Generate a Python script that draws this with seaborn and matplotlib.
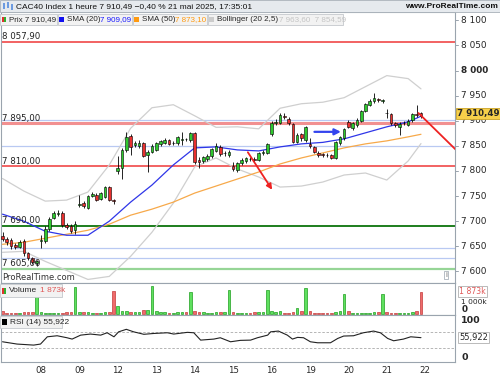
import matplotlib
matplotlib.use("Agg")
import matplotlib.pyplot as plt
import matplotlib.transforms as mtransforms
from matplotlib.patches import Rectangle
import numpy as np
import pandas as pd
import seaborn as sns

# hourly candles, 7 -> 21 May 2025 (9 bars per session)
opens = [7670, 7664, 7662, 7652, 7648, 7660, 7636, 7626, 7616,
         7660, 7660, 7684, 7706, 7714, 7716, 7692, 7690, 7682,
         7733, 7736, 7726, 7750, 7752, 7744, 7749, 7768, 7741,
         7800, 7805, 7842, 7870, 7852, 7849, 7856, 7832, 7838,
         7842, 7853, 7856, 7862, 7855, 7855, 7862, 7864, 7862,
         7876, 7822, 7820, 7824, 7829, 7840, 7848, 7835, 7832,
         7810, 7802, 7815, 7819, 7824, 7824, 7822, 7835, 7836,
         7874, 7896, 7896, 7910, 7904, 7894, 7858, 7874, 7862,
         7854, 7847, 7836, 7833, 7832, 7832, 7826, 7856, 7866,
         7898, 7886, 7892, 7900, 7920, 7932, 7939, 7942, 7940,
         7916, 7914, 7896, 7888, 7895, 7892, 7901, 7914, 7915]
closes = [7664, 7658, 7650, 7648, 7658, 7636, 7626, 7618, 7620,
          7662, 7684, 7704, 7716, 7716, 7692, 7688, 7680, 7694,
          7735, 7730, 7750, 7755, 7742, 7756, 7768, 7742, 7740,
          7806, 7842, 7867, 7848, 7855, 7856, 7830, 7838, 7850,
          7856, 7859, 7862, 7854, 7856, 7867, 7864, 7863, 7875,
          7818, 7818, 7827, 7830, 7843, 7850, 7834, 7836, 7838,
          7803, 7815, 7822, 7825, 7823, 7821, 7835, 7838, 7854,
          7896, 7898, 7912, 7908, 7896, 7858, 7872, 7866, 7887,
          7849, 7838, 7832, 7832, 7831, 7826, 7858, 7868, 7883,
          7888, 7895, 7902, 7920, 7933, 7940, 7946, 7941, 7941,
          7915, 7895, 7891, 7894, 7896, 7900, 7914, 7912, 7910.49]
highs = [7678, 7668, 7666, 7656, 7662, 7664, 7638, 7628, 7622,
         7672, 7690, 7708, 7720, 7722, 7720, 7696, 7694, 7700,
         7752, 7740, 7752, 7758, 7756, 7758, 7770, 7770, 7744,
         7830, 7846, 7878, 7874, 7860, 7862, 7858, 7842, 7854,
         7858, 7862, 7866, 7864, 7860, 7870, 7878, 7866, 7878,
         7878, 7828, 7830, 7834, 7846, 7856, 7852, 7840, 7842,
         7818, 7818, 7826, 7828, 7828, 7828, 7838, 7842, 7856,
         7900, 7904, 7916, 7916, 7908, 7896, 7876, 7876, 7890,
         7866, 7850, 7840, 7836, 7835, 7834, 7860, 7870, 7886,
         7902, 7898, 7906, 7922, 7936, 7944, 7955, 7946, 7944,
         7924, 7916, 7898, 7898, 7900, 7904, 7916, 7932, 7918]
lows = [7660, 7652, 7645, 7644, 7646, 7630, 7622, 7614, 7610,
        7646, 7656, 7680, 7704, 7710, 7688, 7684, 7676, 7674,
        7728, 7726, 7724, 7748, 7740, 7742, 7746, 7740, 7734,
        7794, 7784, 7838, 7832, 7848, 7846, 7828, 7798, 7836,
        7840, 7850, 7854, 7852, 7852, 7852, 7852, 7860, 7858,
        7814, 7805, 7816, 7820, 7826, 7838, 7830, 7830, 7828,
        7800, 7798, 7812, 7816, 7820, 7818, 7820, 7832, 7834,
        7870, 7892, 7893, 7904, 7892, 7855, 7855, 7860, 7858,
        7845, 7835, 7828, 7828, 7828, 7824, 7824, 7852, 7862,
        7885, 7882, 7888, 7898, 7918, 7930, 7936, 7938, 7936,
        7906, 7892, 7888, 7872, 7892, 7890, 7898, 7908, 7906]
volume_k = [276, 140, 110, 130, 110, 150, 190, 190, 1684,
            160, 110, 110, 110, 110, 110, 150, 190, 2237,
            220, 150, 190, 110, 110, 110, 190, 220, 1960,
            690, 280, 280, 190, 190, 190, 330, 360, 2375,
            280, 160, 150, 110, 110, 150, 190, 220, 1878,
            280, 190, 150, 110, 110, 150, 160, 190, 2016,
            220, 110, 110, 110, 130, 150, 160, 190, 2016,
            280, 160, 280, 110, 110, 150, 497, 300, 2154,
            280, 110, 110, 110, 90, 90, 190, 280, 1657,
            280, 110, 110, 110, 110, 110, 190, 190, 1684,
            190, 110, 110, 110, 110, 110, 190, 280, 1873]

# indicator lines every 5 bars
line_idx = [0, 5, 10, 15, 20, 25, 30, 35, 40, 45, 50,
            55, 60, 65, 70, 75, 80, 85, 90, 95, 98]
sma20 = [7714, 7700, 7680, 7672, 7672, 7700, 7738, 7772, 7812, 7846, 7848,
         7842, 7840, 7848, 7854, 7857, 7864, 7876, 7888, 7898, 7909.09]
sma50 = [7654, 7658, 7666, 7674, 7682, 7694, 7712, 7724, 7738, 7756, 7770,
         7784, 7798, 7814, 7826, 7836, 7846, 7854, 7860, 7868, 7873.10]
boll_up = [7785, 7760, 7740, 7742, 7758, 7812, 7885, 7926, 7932, 7910, 7887,
           7888, 7884, 7925, 7934, 7937, 7946, 7968, 7990, 7984, 7963.60]
boll_dn = [7638, 7640, 7620, 7602, 7584, 7590, 7630, 7678, 7736, 7808, 7826,
           7804, 7788, 7768, 7770, 7778, 7792, 7796, 7782, 7820, 7854.59]

rsi_idx = [0, 3.4, 7.3, 8.9, 10.5, 12.8, 15.1, 16.3, 18.3, 20.6, 23, 24.5, 26.1,
           27.2, 29, 30.7, 33.1, 35.4, 38.6, 40.1, 43.3, 44.8, 46.4, 49.5, 51,
           53.4, 55.7, 58.1, 59.7, 62.1, 62.8, 64.6, 66.7, 67.9, 69.1, 70.5,
           72.1, 73.8, 76.8, 78.5, 79.9, 82.2, 84.5, 86.9, 88.5, 90.2, 91.6,
           93.9, 95.6, 98]
rsi_val = [46, 40.5, 38, 40.5, 58, 60.5, 55.7, 52.5, 62, 64.6, 62, 67.7, 58,
           70, 76, 70, 64, 66, 67.7, 64.6, 68.7, 67.7, 50, 52.5, 55.7,
           46, 49.4, 50, 55.7, 62, 70, 71.8, 62, 52.5, 56.6, 55.7,
           46, 43.6, 43.6, 54, 59.8, 60.5, 67.7, 71.8, 67.7, 54, 48.4,
           52.5, 58, 55.922]

day_labels = ["08", "09", "12", "13", "14", "15", "16", "19", "20", "21", "22"]
day_start = [9, 18, 27, 36, 45, 54, 63, 72, 81, 90, 99]

h_red = [8057.90, 7810.00]
h_pink = [7895.00]
h_blue = [7901, 7850, 7647, 7627]
h_green = [7690.00]
h_lgreen = [7605.00]

GREEN = "#2ec82e"
RED = "#e8302f"
W, H = 500, 375
NARROW = ["Liberation Sans", "DejaVu Sans"]

sns.set_style("white")
plt.rcParams["font.family"] = ["DejaVu Sans"]

fig = plt.figure(figsize=(5, 3.75), dpi=100)


def box(top, bottom, right=454):
    return [0.001, 1 - bottom / H, right / W, (bottom - top) / H]


def ftext(x, y, s, **kw):
    kw.setdefault("va", "center")
    return fig.text(x / W, 1 - y / H, s, **kw)


def frect(x0, y0, x1, y1, **kw):
    fig.add_artist(Rectangle((x0 / W, 1 - y1 / H), (x1 - x0) / W, (y1 - y0) / H,
                             transform=fig.transFigure, **kw))


ax = fig.add_axes(box(12, 283.3))
axv = fig.add_axes(box(283.3, 315), sharex=ax)
axr = fig.add_axes(box(315, 361.7), sharex=ax)

idx = np.arange(len(closes))
o = np.array(opens)
c = np.array(closes)
up = c >= o

# price panel
for v in h_blue:
    ax.axhline(v, color="#b9c9f2", lw=0.9, zorder=1)
for v in h_red:
    ax.axhline(v, color="#f04848", lw=1.2, zorder=1)
for v in h_pink:
    ax.axhline(v, color="#f29090", lw=2.2, zorder=1)
for v in h_green:
    ax.axhline(v, color="#1d7d1d", lw=1.4, zorder=1)
for v in h_lgreen:
    ax.axhline(v, color="#96d596", lw=1.6, zorder=1)

sns.lineplot(x=line_idx, y=boll_up, ax=ax, color="#cfcfcf", lw=0.9, zorder=2)
sns.lineplot(x=line_idx, y=boll_dn, ax=ax, color="#cfcfcf", lw=0.9, zorder=2)
sns.lineplot(x=line_idx, y=sma50, ax=ax, color="#f7a94a", lw=0.9, zorder=2)
sns.lineplot(x=line_idx, y=sma20, ax=ax, color="#2f36e8", lw=0.9, zorder=2)

ax.vlines(idx, lows, highs, color="black", lw=0.6, zorder=3)
ax.bar(idx, np.maximum(np.abs(c - o), 1.5), bottom=np.minimum(o, c), width=0.62,
       color=np.where(up, GREEN, RED), edgecolor="black", linewidth=0.4, zorder=4)

# drawings
ax.annotate("", xy=(63.5, 7758), xytext=(57.1, 7842),
            arrowprops=dict(arrowstyle="-|>", color="#ee2222", lw=1.3, mutation_scale=8),
            zorder=5)
ax.plot([97.4, 108], [7915.5, 7827], color="#ee2222", lw=1.3, zorder=5)
ax.annotate("", xy=(79.9, 7878), xytext=(72.4, 7878),
            arrowprops=dict(arrowstyle="-|>", color="#3344ee", lw=1.6, mutation_scale=9),
            zorder=5)

ax.set_xlim(-0.47, 105.85)
ax.set_ylim(7576.3, 8116.7)

# volume panel
axv.bar(idx, volume_k, width=0.62, color=np.where(up, "#5fe05f", "#ef6b6b"),
        edgecolor=np.where(up, "#1f9f1f", "#c43a3a"), linewidth=0.5)
axv.set_ylim(-58, 2568)

# rsi panel
axr.axhline(70, color="#aaaaaa", lw=0.6, ls=(0, (3, 2)))
axr.axhline(30, color="#aaaaaa", lw=0.6, ls=(0, (3, 2)))
sns.lineplot(x=rsi_idx, y=rsi_val, ax=axr, color="#222222", lw=0.8)
axr.set_ylim(-2, 110.5)

for a in (ax, axv, axr):
    a.set_xlabel("")
    a.set_ylabel("")
    a.set_yticks([])
    for s in a.spines.values():
        s.set_color("#9aa4ae")
        s.set_linewidth(0.8)
    a.tick_params(axis="x", length=0, labelbottom=False)

axr.set_xticks(day_start)
axr.set_xticklabels(day_labels)
axr.tick_params(axis="x", length=2, color="#9aa4ae", labelbottom=True,
                labelsize=6.2, pad=1.2)

# right-hand price scale
blend = mtransforms.blended_transform_factory(ax.transAxes, ax.transData)
for v in range(7600, 8101, 50):
    lab = f"{v:,}".replace(",", " ")
    ax.plot([1.0, 1.008], [v, v], transform=blend, color="#9aa4ae", lw=0.7, clip_on=False)
    ax.text(1.015, v, lab, transform=blend, va="center", ha="left", fontsize=6.4,
            fontweight="bold" if v == 8000 else "normal", clip_on=False)
ax.text(1.005, closes[-1] + 4, "7 910,49", transform=blend, va="center", ha="left",
        fontsize=6.2, fontweight="bold", clip_on=False, zorder=20,
        bbox=dict(boxstyle="square,pad=0.12", fc="#f7d04a", ec="#c9a227", lw=0.6))

bv = mtransforms.blended_transform_factory(axv.transAxes, axv.transData)
axv.text(1.01, 1873, "1 873k", transform=bv, va="center", ha="left", fontsize=5.6,
         color="#e05858", clip_on=False,
         bbox=dict(boxstyle="square,pad=0.1", fc="white", ec="#b0b0b0", lw=0.6))
axv.text(1.015, 1000, "1 000k", transform=bv, va="center", ha="left", fontsize=5.4,
         clip_on=False)
axv.text(1.015, 380, "0", transform=bv, va="center", ha="left", fontsize=6.4,
         fontweight="bold", clip_on=False)

br = mtransforms.blended_transform_factory(axr.transAxes, axr.transData)
axr.text(1.015, 97, "100", transform=br, va="center", ha="left", fontsize=6.8,
         fontweight="bold", clip_on=False)
axr.text(1.01, rsi_val[-1], "55,922", transform=br, va="center", ha="left",
         fontsize=6, clip_on=False,
         bbox=dict(boxstyle="square,pad=0.1", fc="white", ec="#b0b0b0", lw=0.6))
axr.text(1.015, 7, "0", transform=br, va="center", ha="left", fontsize=6.8,
         fontweight="bold", clip_on=False)

# level labels
for y, s in [(36.7, "8 057,90"), (118.3, "7 895,00"), (161.7, "7 810,00"),
             (220.7, "7 690,00"), (263.3, "7 605,00")]:
    ftext(2, y, s, fontsize=6.2, color="#222222")
ftext(2, 278, "ProRealTime.com", fontsize=6, color="#333333")
ftext(445, 275, "i", fontsize=5, color="#666666",
      bbox=dict(boxstyle="square,pad=0.2", fc="white", ec="#9aa4ae", lw=0.5))

# header bar
frect(0, 0, 500, 11.7, fc="#e6eaee", ec="#a8b0b8", lw=0.6)
frect(3, 3, 5, 9, fc="#6d9be0", ec="none")
frect(7, 2, 9, 8, fc="#6d9be0", ec="none")
frect(11, 4, 13, 10, fc="#6d9be0", ec="none")
ftext(16, 6.5, "CAC40 Index 1 heure 7 910,49 \u22120,40 % 21 mai 2025, 17:35:01",
      fontsize=6, color="#111111", family=NARROW)
ftext(498, 6.5, "www.ProRealTime.com", fontsize=6, fontweight="bold",
      ha="right", color="#111111", family=NARROW)

# legend strip of price panel
frect(0, 14, 57, 25, fc="#f2f2f2", ec="#c4c8cc", lw=0.6)
frect(58, 14, 132, 25, fc="#f2f2f2", ec="#c4c8cc", lw=0.6)
frect(133, 14, 207, 25, fc="#f2f2f2", ec="#c4c8cc", lw=0.6)
frect(208, 14, 343, 25, fc="#f2f2f2", ec="#c4c8cc", lw=0.6)
frect(2, 17, 4, 22, fc="#e03030", ec="none")
frect(4, 17, 6, 22, fc="#30b030", ec="none")
frect(59, 17, 64, 22, fc="#1010f0", ec="none")
frect(134, 17, 139, 22, fc="#ff9a10", ec="none")
frect(209, 17, 214, 22, fc="#cccccc", ec="none")
ftext(9, 19.5, "Prix 7 910,49", fontsize=5.8, family=NARROW)
ftext(67, 19.5, "SMA (20)", fontsize=5.8, family=NARROW)
ftext(100, 19.5, "7 909,09", fontsize=5.8, color="#1a1aff", family=NARROW)
ftext(142, 19.5, "SMA (50)", fontsize=5.8, family=NARROW)
ftext(175, 19.5, "7 873,10", fontsize=5.8, color="#ff9a10", family=NARROW)
ftext(217, 19.5, "Bollinger (20 2,5)", fontsize=5.8, family=NARROW)
ftext(279, 19.5, "7 963,60  7 854,59", fontsize=5.8, color="#c4c4c4", family=NARROW)

# volume / rsi legends
frect(0, 284, 62, 297, fc="#f2f2f2", ec="#c4c8cc", lw=0.6)
frect(2, 287.5, 4, 293.5, fc="#e03030", ec="none")
frect(4, 287.5, 6, 293.5, fc="#30b030", ec="none")
ftext(9, 290.5, "Volume", fontsize=6, family=NARROW)
ftext(40, 290.5, "1 873k", fontsize=6, color="#e05858", family=NARROW)
frect(0, 316, 62, 328, fc="#f2f2f2", ec="#c4c8cc", lw=0.6)
frect(2, 319, 7, 325, fc="black", ec="none")
ftext(10, 322, "RSI (14) 55,922", fontsize=6, family=NARROW)

fig.savefig("out.png", dpi=100)
